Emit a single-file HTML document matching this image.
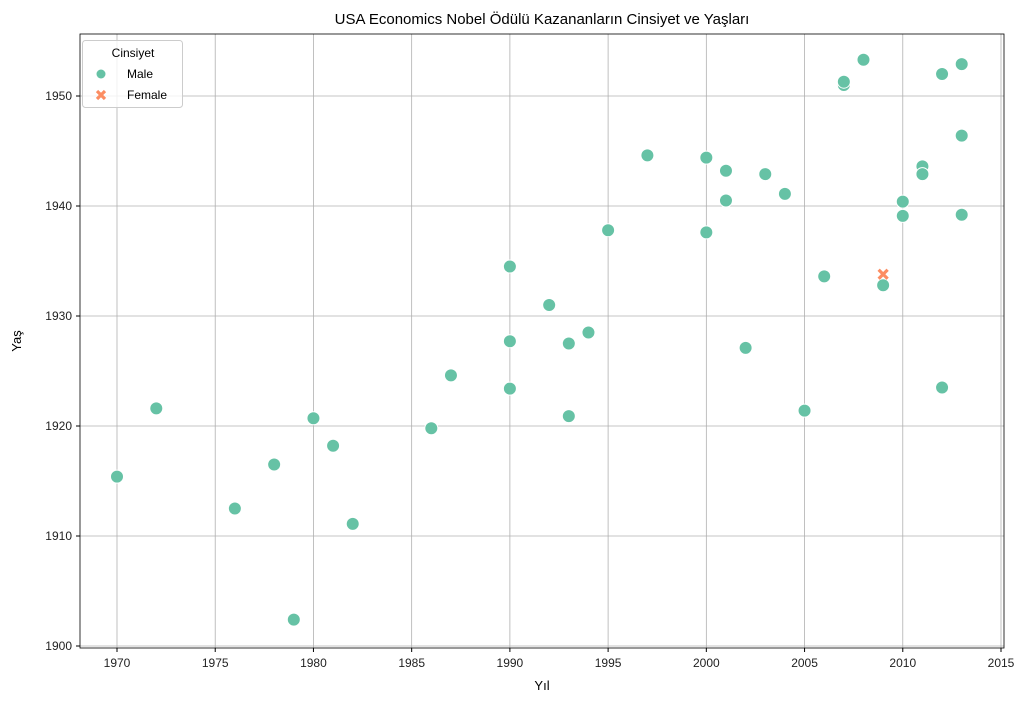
<!DOCTYPE html>
<html><head><meta charset="utf-8"><style>
body{margin:0;background:#fff;font-family:"Liberation Sans","DejaVu Sans",sans-serif;}
</style></head><body>
<svg id="chart" width="1029" height="702" xmlns="http://www.w3.org/2000/svg">
<rect width="1029" height="702" fill="#fff"/>
<g id="grid"></g>
<rect x="80" y="34" width="924" height="614" fill="none" stroke="#000" stroke-width="0.8"/>
<g id="ticks" font-size="12" fill="#222"></g>
<g id="marks"></g>
<text x="542" y="24" text-anchor="middle" font-size="15">USA Economics Nobel Ödülü Kazananların Cinsiyet ve Yaşları</text>
<text x="542" y="690" text-anchor="middle" font-size="13">Yıl</text>
<text x="21" y="341" text-anchor="middle" font-size="13" transform="rotate(-90 21 341)">Yaş</text>
<g>
<rect x="82.5" y="40.5" width="100" height="67" rx="3" fill="#fff" fill-opacity="0.8" stroke="#ccc"/>
<text x="133" y="57" text-anchor="middle" font-size="12">Cinsiyet</text>
<circle cx="101" cy="74" r="4.5" fill="#66c2a5"/>
<text x="127" y="78" font-size="12">Male</text>
<path d="M97,91 L105,99 M105,91 L97,99" stroke="#fc8d62" stroke-width="3.2"/>
<text x="127" y="99" font-size="12">Female</text>
</g>
</svg>
<script>
const maleYears=[1970,1972,1976,1978,1979,1980,1981,1982,1986,1987,1990,1990,1990,1992,1993,1993,1994,1995,1997,2000,2000,2001,2001,2002,2003,2004,2005,2006,2007,2007,2008,2009,2010,2010,2011,2011,2012,2012,2013,2013,2013];
const maleBirth=[1915.4,1921.6,1912.5,1916.5,1902.4,1920.7,1918.2,1911.1,1919.8,1924.6,1934.5,1927.7,1923.4,1931,1927.5,1920.9,1928.5,1937.8,1944.6,1944.4,1937.6,1943.2,1940.5,1927.1,1942.9,1941.1,1921.4,1933.6,1951.0,1951.3,1953.3,1932.8,1940.4,1939.1,1943.6,1942.9,1952,1923.5,1952.9,1946.4,1939.2];
const femaleYears=[2009];
const femaleBirth=[1933.8];
const xTicks=[1970,1975,1980,1985,1990,1995,2000,2005,2010,2015];
const yTicks=[1900,1910,1920,1930,1940,1950];
const X=v=>117+(v-1970)*(884/45);
const Y=v=>646-(v-1900)*11;
const NS="http://www.w3.org/2000/svg";
const grid=document.getElementById('grid'),ticks=document.getElementById('ticks'),marks=document.getElementById('marks');
function mk(tag,attrs,parent){const e=document.createElementNS(NS,tag);for(const k in attrs)e.setAttribute(k,attrs[k]);parent.appendChild(e);return e;}
xTicks.forEach(t=>{const x=X(t);
 const g=mk('line',{x1:x,x2:x,y1:34,y2:648,stroke:'#b0b0b0','stroke-width':0.8},grid);
 
 
 mk('line',{x1:x,x2:x,y1:648,y2:652,stroke:'#000'},ticks);
 const l=mk('text',{x:x,y:667,'text-anchor':'middle'},ticks);l.textContent=t;
 
 
});
yTicks.forEach(t=>{const y=Y(t);
 const g=mk('line',{x1:80,x2:1004,y1:y,y2:y,stroke:'#b0b0b0','stroke-width':0.8},grid);
 
 
 mk('line',{x1:76,x2:80,y1:y,y2:y,stroke:'#000'},ticks);
 const l=mk('text',{x:72,y:y+4,'text-anchor':'end'},ticks);l.textContent=t;
 
 
});
maleYears.forEach((yr,i)=>{
 const c=mk('circle',{cx:X(yr),cy:Y(maleBirth[i]),r:6.5,fill:'#66c2a5',stroke:'#fff','stroke-width':1},marks);
 
 
});
femaleYears.forEach((yr,i)=>{const x=X(yr),y=Y(femaleBirth[i]);
 const p=mk('path',{d:`M${x-4.5},${y-4.5}L${x+4.5},${y+4.5}M${x+4.5},${y-4.5}L${x-4.5},${y+4.5}`,stroke:'#fc8d62','stroke-width':3.2},marks);
 
 
});
</script>
</body></html>
